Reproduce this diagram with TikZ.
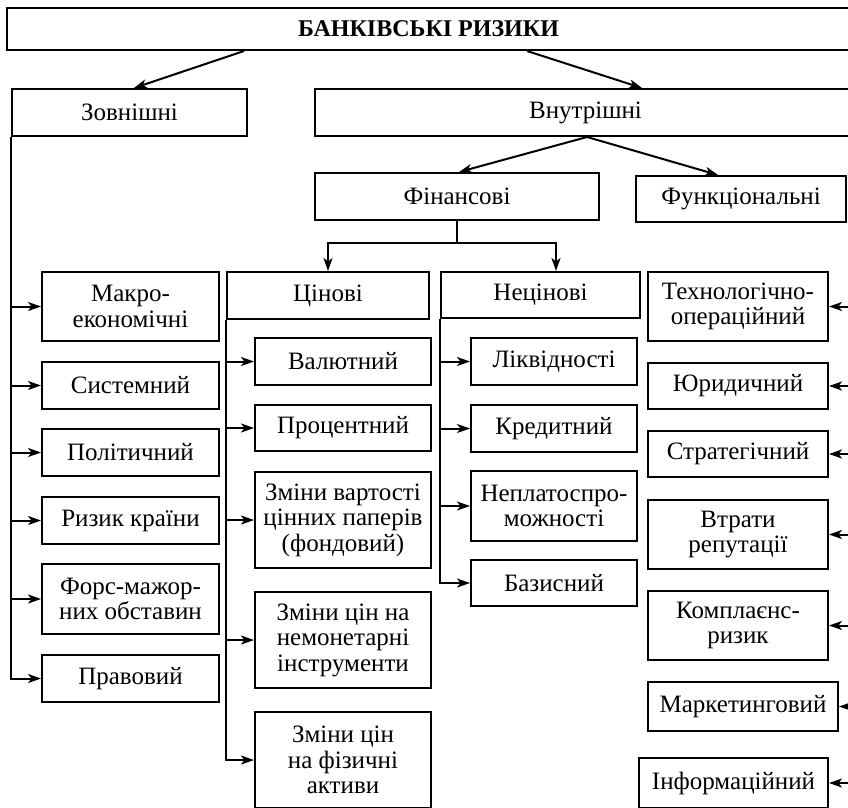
\documentclass[tikz,border=0pt]{standalone}
\usepackage{fontspec}
\setmainfont{Liberation Serif}
\usetikzlibrary{arrows.meta,calc}
\newcommand{\fsz}{\fontsize{25}{25.5}\selectfont}
\newcommand{\bx}[7][]{\node[box,#1,minimum width={(#5)-(#3)},minimum height={(#6)-(#4)}] (#2) at ({((#3)+(#5))/2},{((#4)+(#6))/2}) {#7};}
\tikzset{
  box/.style={draw,line width=2pt,inner sep=0pt,align=center,font=\fsz},
  arr/.style={-{Stealth[length=13pt,width=9pt,inset=3.5pt]},line width=2pt},
  ln/.style={line width=2pt}
}
\begin{document}
\begin{tikzpicture}[x=1pt,y=-1pt]
\useasboundingbox (0,0) rectangle (848,807);
\clip (0,0) rectangle (848,807);
% top levels
\bx[font=\fontsize{24}{25}\selectfont\bfseries]{top}{7}{8}{850}{50}{БАНКІВСЬКІ РИЗИКИ}
\bx{zov}{12}{89}{247}{136}{Зовнішні}
\bx{vnu}{315}{89}{856}{136}{Внутрішні}
\bx{fin}{315}{173}{599}{220}{Фінансові}
\bx{fun}{636}{176}{846}{222}{Функціональні}
\bx{cin}{227}{272}{429}{319}{Цінові}
\bx{necin}{441}{272}{640}{318}{Нецінові}
% left column
\bx{makro}{42}{272}{219}{341}{Макро-\\економічні}
\bx{syst}{42}{362}{219}{409}{Системний}
\bx{polit}{42}{429}{219}{476}{Політичний}
\bx{kraina}{42}{497}{219}{544}{Ризик країни}
\bx{fors}{42}{564}{219}{634}{Форс-мажор-\\них обставин}
\bx{prav}{42}{655}{219}{702}{Правовий}
% price
\bx{valut}{255}{338}{431}{385}{Валютний}
\bx{proc}{255}{405}{431}{451}{Процентний}
\bx{fond}{255}{472}{431}{568}{Зміни вартості\\цінних паперів\\(фондовий)}
\bx{nemon}{255}{592}{431}{688}{Зміни цін на\\немонетарні\\інструменти}
\bx{fiz}{255}{712}{431}{808}{Зміни цін\\на фізичні\\активи}
% non-price
\bx{likv}{471}{338}{637}{385}{Ліквідності}
\bx{kred}{471}{405}{637}{452}{Кредитний}
\bx{neplat}{471}{471}{637}{541}{Неплатоспро-\\можності}
\bx{baz}{471}{560}{637}{606}{Базисний}
% right column
\bx{tech}{648}{272}{828}{341}{Технологічно-\\операційний}
\bx{yur}{648}{363}{828}{409}{Юридичний}
\bx{strat}{648}{431}{828}{477}{Стратегічний}
\bx{rep}{648}{500}{828}{569}{Втрати\\репутації}
\bx{kompl}{648}{591}{828}{660}{Комплаєнс-\\ризик}
\bx{mark}{648}{682}{838}{731}{Маркетинговий}
\bx{inf}{639}{758}{828}{808}{Інформаційний}
% connectors from top
\draw[arr] ([xshift=238pt]top.south west) -- ([xshift=123pt]zov.north west);
\draw[arr] ([xshift=521pt]top.south west) -- ([xshift=328pt]vnu.north west);
\draw[arr] ([xshift=273pt]vnu.south west) -- ([xshift=145pt]fin.north west);
\draw[arr] ([xshift=273pt]vnu.south west) -- ([xshift=83pt]fun.north west);
% financial split
\coordinate (fj) at ($(fin.south)+(0,22)$);
\draw[ln] (fin.south) -- (fj);
\draw[arr] (fj) -| ([xshift=102pt]cin.north west);
\draw[arr] (fj) -| ([xshift=116pt]necin.north west);
% left bus
\draw[arr] (zov.south west) |- (prav.west);
\foreach \n in {makro,syst,polit,kraina,fors}
  \draw[arr] (\n.west -| zov.south west) -- (\n.west);
% price bus
\draw[arr] (cin.south west) |- (fiz.west);
\foreach \n in {valut,proc,fond,nemon}
  \draw[arr] (\n.west -| cin.south west) -- (\n.west);
% non-price bus
\draw[arr] (necin.south west) |- (baz.west);
\foreach \n in {likv,kred,neplat}
  \draw[arr] (\n.west -| necin.south west) -- (\n.west);
% right bus (off the page edge)
\coordinate (rb) at (852,0);
\foreach \n in {tech,yur,strat,rep,kompl,mark,inf}
  \draw[arr] (\n.east -| rb) -- (\n.east);
\end{tikzpicture}
\end{document}
